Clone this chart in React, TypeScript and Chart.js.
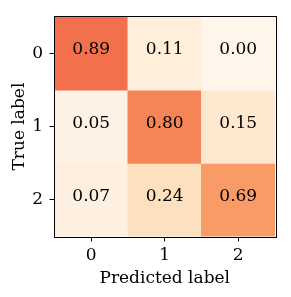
import React, { useEffect, useRef } from "react";
import { Chart, registerables } from "chart.js";

Chart.register(...registerables);

const predictedLabels = ["0", "1", "2"];
const trueLabels = [0, 1, 2];
const row0 = [0.89, 0.11, 0.0];
const row1 = [0.05, 0.8, 0.15];
const row2 = [0.07, 0.24, 0.69];
const rowColors0 = ["rgb(242,112,76)", "rgb(254,238,218)", "rgb(255,245,235)"];
const rowColors1 = ["rgb(254,242,228)", "rgb(245,133,87)", "rgb(254,233,208)"];
const rowColors2 = ["rgb(254,240,224)", "rgb(253,225,190)", "rgb(248,155,103)"];
const xTitle = "Predicted label";
const yTitle = "True label";

const rows = [row0, row1, row2];
const rowColors = [rowColors0, rowColors1, rowColors2];
const FONT = "'DejaVu Serif', serif";
const FS = 17;

const textPlugin = {
  id: "cellText",
  afterDatasetsDraw(chart: any) {
    const { ctx, scales } = chart;
    ctx.save();
    ctx.fillStyle = "#000";
    ctx.font = `${FS}px ${FONT}`;
    ctx.textAlign = "center";
    ctx.textBaseline = "alphabetic";
    rows.forEach((row, r) => {
      row.forEach((v, c) => {
        const x = scales.x.getPixelForValue(c);
        const y = scales.y.getPixelForValue(trueLabels[r]);
        ctx.fillText(v.toFixed(2), x, y + 1);
      });
    });
    ctx.restore();
  },
  afterDraw(chart: any) {
    const { ctx, chartArea } = chart;
    ctx.save();
    ctx.strokeStyle = "#000";
    ctx.lineWidth = 1;
    ctx.strokeRect(
      Math.round(chartArea.left) - 0.5,
      Math.round(chartArea.top) - 0.5,
      Math.round(chartArea.right - chartArea.left) + 1,
      Math.round(chartArea.bottom - chartArea.top) + 1
    );
    ctx.restore();
  },
};

export default function App() {
  const ref = useRef<HTMLCanvasElement | null>(null);
  useEffect(() => {
    if (!ref.current) return;
    const chart = new Chart(ref.current, {
      type: "bar",
      data: {
        labels: predictedLabels,
        datasets: rows.map((row, r) => ({
          label: String(trueLabels[r]),
          data: row.map(() => [trueLabels[r] - 0.5, trueLabels[r] + 0.5]),
          backgroundColor: rowColors[r],
          borderWidth: 0,
          barPercentage: 1,
          categoryPercentage: 1,
          grouped: false,
          inflateAmount: 0.5,
        })) as any,
      },
      options: {
        animation: false,
        responsive: false,
        devicePixelRatio: 1,
        layout: { padding: { top: 15, right: 16, left: 0, bottom: 0 } },
        plugins: { legend: { display: false }, tooltip: { enabled: false } },
        scales: {
          x: {
            type: "category",
            offset: true,
            afterFit: (s: any) => {
              s.height = 60.5;
            },
            grid: {
              offset: false,
              drawOnChartArea: false,
              drawTicks: true,
              tickLength: 5,
              color: "#000",
              lineWidth: 1,
            },
            border: { display: false },
            ticks: { color: "#000", font: { family: FONT, size: FS }, padding: 4 },
            title: {
              display: true,
              text: xTitle,
              color: "#000",
              font: { family: FONT, size: FS },
              padding: { top: 0, bottom: 8.5 },
            },
          },
          y: {
            type: "linear",
            min: -0.5,
            max: 2.5,
            reverse: true,
            afterFit: (s: any) => {
              s.width = 54.5;
            },
            afterBuildTicks: (s: any) => {
              s.ticks = trueLabels.map((v) => ({ value: v }));
            },
            grid: {
              drawOnChartArea: false,
              drawTicks: true,
              tickLength: 5,
              color: "#000",
              lineWidth: 1,
            },
            border: { display: false },
            ticks: {
              color: "#000",
              font: { family: FONT, size: FS },
              padding: 6.5,
              callback: (v: any) => String(v),
            },
            title: {
              display: true,
              text: yTitle,
              color: "#000",
              font: { family: FONT, size: FS },
              padding: { top: 9, bottom: 0 },
            },
          },
        },
      },
      plugins: [textPlugin],
    });
    return () => chart.destroy();
  }, []);
  return (
    <div style={{ position: "fixed", left: 0, top: 0, width: 291, height: 297, background: "#fff" }}>
      <canvas ref={ref} width={291} height={297} style={{ width: 291, height: 297 }} />
    </div>
  );
}
